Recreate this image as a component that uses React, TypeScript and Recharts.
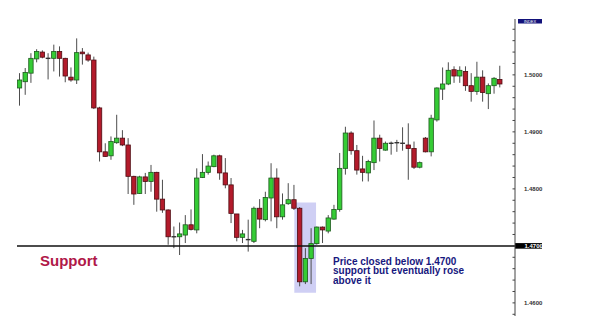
import { ComposedChart, Bar, XAxis, YAxis, ReferenceLine, ReferenceArea } from 'recharts';

// OHLC, one entry per candle, left to right
const opens = [
  1.4977, 1.4988, 1.5003, 1.5028, 1.504, 1.5029, 1.5029, 1.5041, 1.5029, 1.4996,
  1.4991, 1.504, 1.5035, 1.5026, 1.4942, 1.4865, 1.4858, 1.4881, 1.4889, 1.4877,
  1.4822, 1.4792, 1.4821, 1.4813, 1.4829, 1.4782, 1.4763, 1.4716, 1.4716, 1.4719,
  1.4737, 1.4728, 1.482, 1.4829, 1.4839, 1.4858, 1.4828, 1.4807, 1.4756, 1.4715,
  1.4709, 1.4708, 1.4766, 1.4746, 1.4784, 1.4819, 1.4751, 1.4774, 1.4781, 1.4766,
  1.4637, 1.4678, 1.4704, 1.4733, 1.4726, 1.4747, 1.4764, 1.4836, 1.4898, 1.4867,
  1.4835, 1.4828, 1.4846, 1.4889, 1.4868, 1.488, 1.488, 1.488, 1.4877, 1.4871,
  1.4838, 1.4889, 1.4865, 1.4921, 1.4975, 1.4984, 1.5009, 1.4998, 1.5006, 1.4981,
  1.4971, 1.4996, 1.4967, 1.4981, 1.4992,
];
const highs = [
  1.5003, 1.5012, 1.5038, 1.5045, 1.5043, 1.5038, 1.5053, 1.505, 1.503, 1.5013,
  1.5064, 1.5047, 1.5039, 1.5032, 1.4944, 1.488, 1.4892, 1.493, 1.4903, 1.4889,
  1.4823, 1.4823, 1.4828, 1.4842, 1.483, 1.4816, 1.4764, 1.4734, 1.4741, 1.4754,
  1.4764, 1.4836, 1.4861, 1.4848, 1.486, 1.486, 1.4854, 1.4819, 1.4756, 1.4728,
  1.4746, 1.4769, 1.4782, 1.4795, 1.4845, 1.4836, 1.4792, 1.481, 1.4807, 1.4768,
  1.4696, 1.4731, 1.4734, 1.4734, 1.4754, 1.4772, 1.4863, 1.4909, 1.4901, 1.4877,
  1.4858, 1.4851, 1.492, 1.4895, 1.4883, 1.4883, 1.4886, 1.4908, 1.4915, 1.4883,
  1.4848, 1.4891, 1.493, 1.4978, 1.5013, 1.5022, 1.5015, 1.5015, 1.5015, 1.5003,
  1.5023, 1.5008, 1.4985, 1.4996, 1.5016,
];
const lows = [
  1.4946, 1.4965, 1.4986, 1.5022, 1.5029, 1.4992, 1.5006, 1.4997, 1.4987, 1.4988,
  1.4984, 1.5018, 1.5023, 1.494, 1.4848, 1.4856, 1.4851, 1.4879, 1.4875, 1.4791,
  1.4772, 1.4791, 1.4791, 1.4795, 1.476, 1.4758, 1.4702, 1.4696, 1.4684, 1.4705,
  1.4727, 1.4722, 1.4819, 1.4825, 1.4838, 1.4816, 1.4801, 1.474, 1.4708, 1.4705,
  1.469, 1.4705, 1.4731, 1.4743, 1.4743, 1.4731, 1.4746, 1.4772, 1.4763, 1.4629,
  1.4633, 1.4633, 1.4702, 1.4705, 1.4722, 1.4746, 1.476, 1.4825, 1.486, 1.4825,
  1.4813, 1.4813, 1.4833, 1.4848, 1.4867, 1.486, 1.4865, 1.4867, 1.4816, 1.4835,
  1.4836, 1.4864, 1.4857, 1.4918, 1.4956, 1.4982, 1.4986, 1.4986, 1.4972, 1.4953,
  1.4965, 1.4953, 1.494, 1.4967, 1.4978,
];
const closes = [
  1.4991, 1.5004, 1.5029, 1.5041, 1.5031, 1.5028, 1.5041, 1.5029, 1.4998, 1.4991,
  1.5039, 1.5037, 1.5026, 1.4942, 1.4865, 1.4857, 1.4883, 1.4889, 1.4877, 1.4822,
  1.4791, 1.4821, 1.4813, 1.4829, 1.4782, 1.4763, 1.4716, 1.4715, 1.4721, 1.4737,
  1.4729, 1.4819, 1.4829, 1.484, 1.4858, 1.4828, 1.4807, 1.4757, 1.4715, 1.4721,
  1.4711, 1.4766, 1.4747, 1.4785, 1.4819, 1.4751, 1.4772, 1.4781, 1.4766, 1.4637,
  1.4678, 1.4704, 1.4733, 1.4728, 1.4749, 1.4764, 1.4836, 1.4898, 1.4867, 1.4833,
  1.4829, 1.4848, 1.4889, 1.4871, 1.488, 1.4879, 1.4881, 1.4879, 1.4871, 1.4838,
  1.4846, 1.4865, 1.4924, 1.4977, 1.4984, 1.5008, 1.4998, 1.5008, 1.4981, 1.4971,
  1.4996, 1.4969, 1.4981, 1.4994, 1.4984,
];

const axisTicks = [
  1.458, 1.46, 1.462, 1.464, 1.466, 1.468, 1.47, 1.472, 1.474, 1.476, 1.478, 1.48, 1.482,
  1.484, 1.486, 1.488, 1.49, 1.492, 1.494, 1.496, 1.498, 1.5, 1.502, 1.504, 1.506, 1.508,
];
const majorTicks = [1.46, 1.47, 1.48, 1.49, 1.5];
const supportLevel = 1.47;

// the break below support (candle positions / price range)
const breakFrom = 48;
const breakTo = 51.8;
const breakLow = 1.4618;
const breakHigh = 1.4776;

const noteLines = ['Price closed below 1.4700', 'support but eventually rose', 'above it'];

const chartData = opens.map((open, i) => ({
  idx: i,
  open,
  high: highs[i],
  low: lows[i],
  close: closes[i],
  range: [lows[i], highs[i]],
}));

const FONT = '"Liberation Sans", Arial, sans-serif';
const isSame = (a: number, b: number) => Math.abs(a - b) < 1e-7;

const Candle = (props: any) => {
  const { x, y, width, height, payload } = props;
  if (x == null || !payload) return null;
  const { open, close, high, low } = payload;
  const px = (v: number) => y + ((high - v) / (high - low)) * height;
  const cx = x + width / 2;
  const up = close >= open;
  const top = px(Math.max(open, close));
  const bottom = px(Math.min(open, close));
  const bodyH = bottom - top;
  return (
    <g>
      <line x1={cx} x2={cx} y1={y} y2={y + height} stroke="#4d4d4d" strokeWidth={1} />
      {bodyH < 1.3 ? (
        <line x1={cx - 2.4} x2={cx + 2.4} y1={top} y2={top} stroke="#333" strokeWidth={1.4} />
      ) : (
        <rect
          x={cx - 2.2}
          y={top}
          width={4.4}
          height={bodyH}
          fill={up ? '#35cc35' : '#b31b2b'}
          stroke={up ? '#1d5a1d' : '#4e0c12'}
          strokeWidth={0.8}
        />
      )}
    </g>
  );
};

const PriceTick = (props: any) => {
  const { x, y, payload } = props;
  const v = payload.value;
  const axisX = x - 9;
  const major = majorTicks.some((m) => isSame(m, v));
  return (
    <g>
      <line x1={axisX - 2.5} x2={axisX} y1={y} y2={y} stroke="#444" strokeWidth={1} />
      {major && !isSame(v, supportLevel) && (
        <text x={x} y={y + 2} fontSize={6} fontWeight="bold" fill="#333" fontFamily={FONT}>
          {v.toFixed(4)}
        </text>
      )}
    </g>
  );
};

const IndexTag = (props: any) => {
  const vb = props.viewBox;
  if (!vb) return null;
  return (
    <g>
      <rect x={vb.x + 3} y={vb.y} width={24} height={4.5} fill="#12127a" />
      <text x={vb.x + 15} y={vb.y + 3.8} fontSize={4} fill="#fff" textAnchor="middle" fontFamily={FONT}>
        INDEX
      </text>
    </g>
  );
};

const SupportLabel = (props: any) => {
  const vb = props.viewBox;
  if (!vb) return null;
  const right = vb.x + vb.width;
  return (
    <g>
      <text x={vb.x + 23} y={vb.y + 20.5} fontSize={15} fontWeight="bold" fill="#b01848" fontFamily={FONT}>
        Support
      </text>
      <rect x={right} y={vb.y - 2.8} width={27} height={5.6} fill="#000" />
      <text x={right + 9.5} y={vb.y + 2} fontSize={6} fontWeight="bold" fill="#fff" fontFamily={FONT}>
        {supportLevel.toFixed(4)}
      </text>
    </g>
  );
};

const NoteLabel = (props: any) => {
  const vb = props.viewBox;
  if (!vb) return null;
  return (
    <text fontSize={10} fontWeight="bold" fill="#17177e" fontFamily={FONT}>
      {noteLines.map((line, i) => (
        <tspan key={i} x={vb.x + vb.width + 17} y={vb.y + 62 + i * 9.6}>
          {line}
        </tspan>
      ))}
    </text>
  );
};

const App = () => {
  return (
    <div style={{ position: 'absolute', left: 0, top: 0, width: 592, height: 331, background: '#fff' }}>
      <ComposedChart
        width={592}
        height={331}
        data={chartData}
        margin={{ top: 19, right: 0, bottom: 15, left: 17 }}
      >
        <XAxis type="number" dataKey="idx" domain={[-0.5, 86.6]} hide allowDataOverflow />
        <YAxis
          orientation="right"
          type="number"
          domain={[1.4577, 1.5098]}
          ticks={axisTicks}
          interval={0}
          width={77}
          allowDataOverflow
          axisLine={{ stroke: '#444', strokeWidth: 1 }}
          tickLine={false}
          tickSize={0}
          tickMargin={9}
          tick={<PriceTick />}
          label={<IndexTag />}
        />
        <ReferenceLine y={supportLevel} stroke="#111" strokeWidth={1.5} label={<SupportLabel />} />
        <Bar dataKey="range" barSize={5} shape={<Candle />} isAnimationActive={false} />
        <ReferenceArea
          x1={breakFrom}
          x2={breakTo}
          y1={breakLow}
          y2={breakHigh}
          fill="#8080e2"
          fillOpacity={0.38}
          stroke="none"
          label={<NoteLabel />}
        />
      </ComposedChart>
    </div>
  );
};

export default App;
